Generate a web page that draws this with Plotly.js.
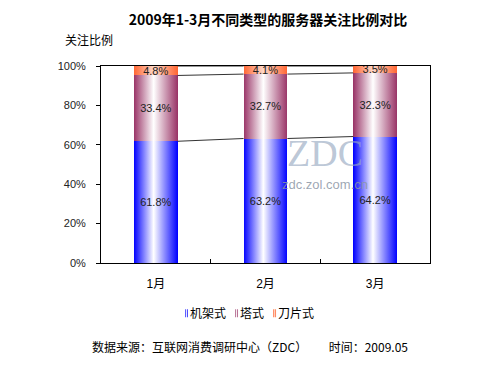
<!DOCTYPE html>
<html><head><meta charset="utf-8">
<script src="https://cdn.plot.ly/plotly-3.0.1.min.js"></script>
<style>body{margin:0;background:#fff}#c{width:500px;height:375px}</style>
</head><body><div id="c"></div>
<script>
const months = ['1月','2月','3月'];
const seriesNames = ['机架式','塔式','刀片式'];
const rack = [61.8, 63.2, 64.2];
const tower = [33.4, 32.7, 32.3];
const blade = [4.8, 4.1, 3.5];
const yTicks = [0,20,40,60,80,100];
const yTickLabels = ['0%','20%','40%','60%','80%','100%'];

const FONT = 'Liberation Sans, Arial, Noto Sans CJK SC, sans-serif';
const BW = 0.4;
const allSeries = [rack, tower, blade];
const traces = allSeries.map((vals, i) => ({
  type: 'bar', name: seriesNames[i], x: months, y: vals, width: BW,
  marker: {color: ['#3333ff','#a8557a','#ff7a4d'][i], line: {width: 0}},
  texttemplate: '%{y:.1f}%', textposition: 'inside', insidetextanchor: 'middle',
  constraintext: 'none', cliponaxis: false,
  textfont: {family: FONT, size: 11, color: '#222'}, hoverinfo: 'none'
}));

const shapes = [];
let cum = months.map(() => 0);
allSeries.forEach(vals => {
  cum = cum.map((c, k) => c + vals[k]);
  for (let k = 0; k < months.length - 1; k++) {
    shapes.push({type: 'line', xref: 'x', yref: 'y', x0: k + BW/2, x1: k + 1 - BW/2,
      y0: cum[k], y1: cum[k+1], line: {color: '#333', width: 1}});
  }
});

const layout = {
  width: 500, height: 375, paper_bgcolor: '#fff', plot_bgcolor: '#fff',
  margin: {l: 101, r: 70, t: 66, b: 112},
  barmode: 'stack', showlegend: true,
  font: {family: FONT, size: 11, color: '#000'},
  title: {text: '<b>2009年1-3月不同类型的服务器关注比例对比</b>', xref: 'container', yref: 'container',
    x: 0.536, xanchor: 'center', y: 0.947, yanchor: 'middle',
    font: {family: 'Noto Sans CJK SC, Liberation Sans, sans-serif', size: 14, color: '#000'}},
  xaxis: {type: 'category', showline: true, linecolor: '#000', linewidth: 1, mirror: true,
    ticks: 'inside', tickson: 'boundaries', ticklen: 4, tickcolor: '#000', ticklabelstandoff: 10,
    tickfont: {family: FONT, size: 12, color: '#000'}, showgrid: false, zeroline: false},
  yaxis: {range: [0, 100], tickmode: 'array', tickvals: yTicks, ticktext: yTickLabels, showline: true, linecolor: '#000',
    linewidth: 1, mirror: true, ticks: 'outside', ticklen: 4, tickcolor: '#000', showgrid: false,
    ticklabelstandoff: 8,
    zeroline: false, tickfont: {family: FONT, size: 11, color: '#222'}},
  legend: {orientation: 'h', xref: 'container', yref: 'container', x: 0.5, xanchor: 'center',
    y: 0.165, yanchor: 'middle', font: {family: 'Noto Sans CJK SC, sans-serif', size: 12}, itemwidth: 30,
    traceorder: 'normal'},
  shapes: shapes,
  annotations: [
    {text: '关注比例', xref: 'paper', yref: 'paper', x: -0.1155, y: 1.132, xanchor: 'left', yanchor: 'middle',
     showarrow: false, font: {family: 'Noto Sans CJK SC, sans-serif', size: 12, color: '#000'}},
    {text: 'ZDC', xref: 'paper', yref: 'paper', x: 0.681, y: 0.56, xanchor: 'center', yanchor: 'middle',
     showarrow: false, font: {family: 'Liberation Serif, serif', size: 38, color: 'rgba(150,168,192,0.65)'}},
    {text: 'zdc.zol.com.cn', xref: 'paper', yref: 'paper', x: 0.681, y: 0.40, xanchor: 'center', yanchor: 'middle',
     showarrow: false, font: {family: FONT, size: 13, color: 'rgba(140,150,165,0.85)'}},
    {text: '数据来源：互联网消费调研中心（ZDC）        时间：2009.05', xref: 'paper', yref: 'paper',
     x: -0.033, y: -0.426, xanchor: 'left', yanchor: 'middle', showarrow: false,
     font: {family: 'Noto Sans CJK SC, sans-serif', size: 12, color: '#000'}}
  ]
};

Plotly.newPlot('c', traces, layout, {staticPlot: true}).then(gd => {
  const svg = gd.querySelector('.main-svg');
  const ns = 'http://www.w3.org/2000/svg';
  let defs = svg.querySelector('defs');
  if (!defs) { defs = document.createElementNS(ns, 'defs'); svg.insertBefore(defs, svg.firstChild); }
  const grads = [
    ['#0000ff', '#ffffff', '#0000ff'],
    ['#993366', '#ffffff', '#993366'],
    ['#ff6633', '#ffd8c8', '#ff6633']
  ];
  grads.forEach((g, i) => {
    const lg = document.createElementNS(ns, 'linearGradient');
    lg.setAttribute('id', 'bg' + i);
    lg.setAttribute('x1', '0'); lg.setAttribute('x2', '1'); lg.setAttribute('y1', '0'); lg.setAttribute('y2', '0');
    [[0, g[0]], [0.45, g[1]], [1, g[2]]].forEach(([o, c]) => {
      const s = document.createElementNS(ns, 'stop');
      s.setAttribute('offset', o); s.setAttribute('stop-color', c); lg.appendChild(s);
    });
    defs.appendChild(lg);
  });
  gd.querySelectorAll('.barlayer .trace').forEach((t, i) => {
    t.querySelectorAll('path').forEach(p => { p.style.fill = 'url(#bg' + i + ')'; });
  });
  let nextText = 190;
  gd.querySelectorAll('.legend .traces').forEach((t, i) => {
    const txt = t.querySelector('.legendtext');
    const r = txt.getBoundingClientRect();
    const delta = nextText - r.left;
    const m = /translate\(([-\d.]+)[ ,]*([-\d.]*)\)/.exec(t.getAttribute('transform') || '');
    const tx = m ? parseFloat(m[1]) : 0, ty = m && m[2] ? parseFloat(m[2]) : 0;
    t.setAttribute('transform', 'translate(' + (tx + delta) + ',' + ty + ')');
    const textX = parseFloat(txt.getAttribute('x')) || 40;
    t.querySelectorAll('.legendpoints path').forEach(p => {
      p.setAttribute('d', 'M0,-4H3V4H0Z');
      p.setAttribute('transform', 'translate(' + (textX - 5) + ',0)');
      p.style.fill = 'url(#bg' + i + ')';
      p.style.stroke = 'none';
    });
    nextText = nextText + r.width + 14;
  });
});
</script></body></html>
